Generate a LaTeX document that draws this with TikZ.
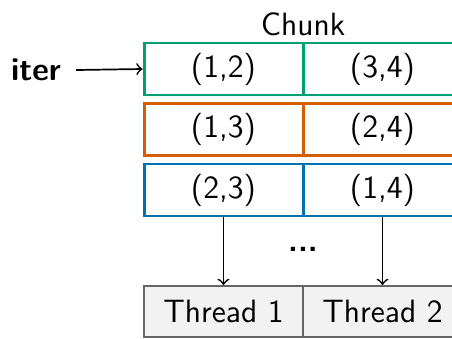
\documentclass[tikz,border=0pt]{standalone}
\usepackage{xcolor}
\definecolor{chgreen}{HTML}{009E73}
\definecolor{chorange}{HTML}{D55E00}
\definecolor{chblue}{HTML}{0072B2}
\tikzset{
  cell/.style={draw, line width=1pt, minimum width=55.6pt, minimum height=18.2pt, inner sep=0pt},
  threadcell/.style={draw=black!60, fill=black!5, line width=0.6pt, minimum width=55.6pt, minimum height=17.9pt, inner sep=0pt},
}
\begin{document}
\begin{tikzpicture}[x=0.35pt,y=-0.35pt,font=\sffamily\fontsize{11.3}{13.5}\selectfont]
\useasboundingbox (0,0) rectangle (452,338);
\node (chunk) at (303,24) {Chunk};
\node[cell,draw=chgreen] (a1) at (223.5,69) {(1,2)};
\node[cell,draw=chgreen] (a2) at (382.5,69) {(3,4)};
\node[cell,draw=chorange] (b1) at (223.5,129.5) {(1,3)};
\node[cell,draw=chorange] (b2) at (382.5,129.5) {(2,4)};
\node[cell,draw=chblue] (c1) at (223.5,190) {(2,3)};
\node[cell,draw=chblue] (c2) at (382.5,190) {(1,4)};
\node[threadcell] (t1) at (223.5,311.5) {Thread 1};
\node[threadcell] (t2) at (382.5,311.5) {Thread 2};
\node (dots) at (303,249) {\textbf{...}};
\node (iter) at (36,70) {\textbf{iter}};
\draw[semithick,->] (iter.east) ++(5,0) -- (a1.west);
\draw[semithick,->] (c1) -- (t1);
\draw[semithick,->] (c2) -- (t2);
\end{tikzpicture}
\end{document}
